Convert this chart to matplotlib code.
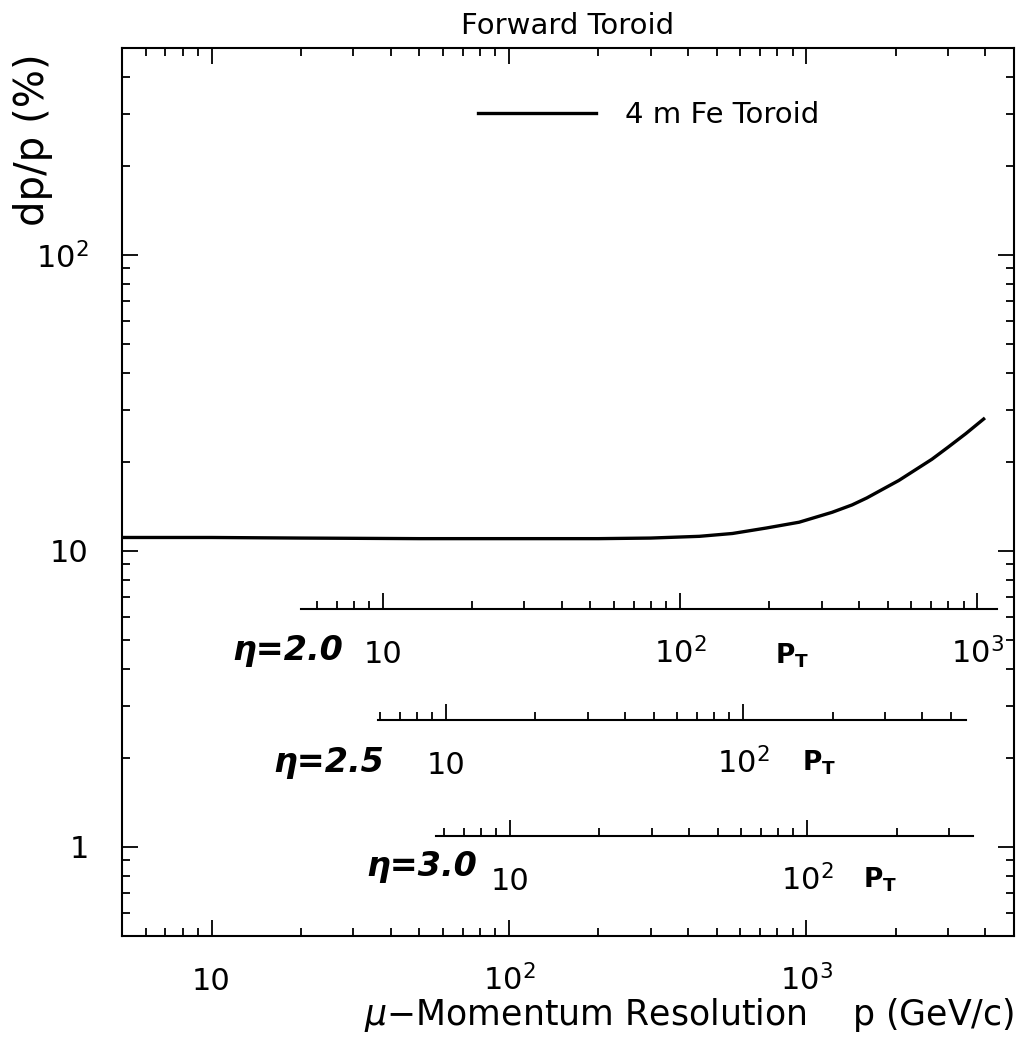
import numpy as np
import matplotlib
matplotlib.use("Agg")
import matplotlib.pyplot as plt
from matplotlib.ticker import FixedLocator, FuncFormatter, NullFormatter, LogLocator

# ---------------- data ----------------
p_gev = [5, 10, 20, 50, 100, 200, 300, 437, 565, 735, 947, 1222, 1427, 1600, 1798, 2050,
         2648, 3000, 3443, 3953]
dp_over_p = [11.1, 11.1, 11.05, 11.0, 11.0, 11.0, 11.05, 11.2, 11.45, 11.95, 12.5, 13.5,
             14.3, 15.1, 16.1, 17.3, 20.4, 22.4, 24.9, 27.9]
series_label = "4 m Fe Toroid"

etas = [2.0, 2.5, 3.0]
eta_labels = ["η=2.0", "η=2.5", "η=3.0"]
pt_scale_level = [6.37, 2.69, 1.09]     # dp/p value where each pT scale is drawn
pt_scale_start = [5.3, 5.9, 5.65]       # pT range covered by each scale line
pt_scale_end = [1163, 561, 361]

x_ticks = [10, 100, 1000]
x_tick_labels = ["10", "10$^2$", "10$^3$"]
y_ticks = [1, 10, 100]
y_tick_labels = ["1", "10", "10$^2$"]
pt_major_labels = {10: "10", 100: "10$^2$", 1000: "10$^3$"}

# ---------------- figure ----------------
plt.rcParams['font.family'] = ['DejaVu Sans']
fig = plt.figure(figsize=(10.18, 10.42), dpi=100)
ax = fig.add_axes([122 / 1018, 1 - 936 / 1042, 892 / 1018, 888 / 1042])
ax.set_xscale('log')
ax.set_yscale('log')
ax.set_xlim(5, 5000)
ax.set_ylim(0.5, 500)

ax.plot(p_gev, dp_over_p, color='black', lw=2.4, label=series_label)

for s in ax.spines.values():
    s.set_linewidth(1.5)

ax.set_xticks(x_ticks, labels=x_tick_labels)
ax.set_yticks(y_ticks, labels=y_tick_labels)
ax.xaxis.set_minor_locator(LogLocator(base=10, subs=np.arange(2, 10)))
ax.yaxis.set_minor_locator(LogLocator(base=10, subs=np.arange(2, 10)))
ax.xaxis.set_minor_formatter(NullFormatter())
ax.yaxis.set_minor_formatter(NullFormatter())
ax.tick_params(which='both', direction='in', top=True, right=True, width=1.3)
ax.tick_params(which='major', length=11.5)
ax.tick_params(which='minor', length=6)
ax.tick_params(axis='x', which='major', labelsize=22, pad=39)
ax.tick_params(axis='y', which='major', labelsize=22, pad=24)

ax.set_title("Forward Toroid", fontsize=21, pad=10)
ax.set_xlabel("$\\mu$−Momentum Resolution    p (GeV/c)", fontsize=25, loc='right')
ax.xaxis.set_label_coords(1.0, -0.068)
ax.set_ylabel("dp/p (%)", fontsize=29, loc='top')
ax.yaxis.set_label_coords(-0.077, 0.994)

ax.legend(loc='center left', bbox_to_anchor=(0.399, 0.9245), frameon=False,
          fontsize=21, handlelength=4.05, handletextpad=1.0, borderpad=0,
          borderaxespad=0)

# ---------------- pT scales for several pseudorapidities ----------------
secaxes = []
for eta, level, start, end in zip(etas, pt_scale_level, pt_scale_start, pt_scale_end):
    c = np.cosh(eta)
    sec = ax.secondary_xaxis(level, functions=(lambda p, c=c: p / c, lambda q, c=c: q * c),
                             transform=ax.transData)
    sec.set_alignment('bottom')
    majors, minors = [], []
    for dec in [1, 10, 100, 1000]:
        for k in range(1, 10):
            v = k * dec
            if start <= v <= end:
                (majors if k == 1 else minors).append(v)
    sec.xaxis.set_major_locator(FixedLocator(majors))
    sec.xaxis.set_minor_locator(FixedLocator(minors))
    sec.xaxis.set_major_formatter(FuncFormatter(lambda v, pos: pt_major_labels.get(int(round(v)), "")))
    sec.xaxis.set_minor_formatter(NullFormatter())
    sec.spines['top'].set_visible(False)
    sec.spines['bottom'].set_visible(True)
    sec.spines['bottom'].set_bounds(start, end)
    sec.spines['bottom'].set_linewidth(1.5)
    sec.tick_params(axis='x', which='both', direction='in', width=1.3, top=False, bottom=True,
                    labeltop=False, labelbottom=True)
    sec.tick_params(axis='x', which='major', length=11.5, labelsize=22, pad=39)
    sec.tick_params(axis='x', which='minor', length=6)
    secaxes.append(sec)

# hand-written style annotations
eta_pos = [(0.186, 0.322), (0.232, 0.195), (0.336, 0.078)]
pt_pos = [(0.751, 0.316), (0.781, 0.195), (0.850, 0.063)]
for lab, (ex, ey), (px, py) in zip(eta_labels, eta_pos, pt_pos):
    ax.text(ex, ey, lab, transform=ax.transAxes, ha='center', va='center',
            fontsize=24, fontweight='bold', fontstyle='italic')
    ax.text(px, py, "$\\mathbf{P_T}$", transform=ax.transAxes, ha='center', va='center',
            fontsize=19)

fig.canvas.draw()
for a in [ax] + secaxes:
    for t in a.get_xticklabels():
        t.set_va('baseline')

fig.savefig("out.png", dpi=100)
